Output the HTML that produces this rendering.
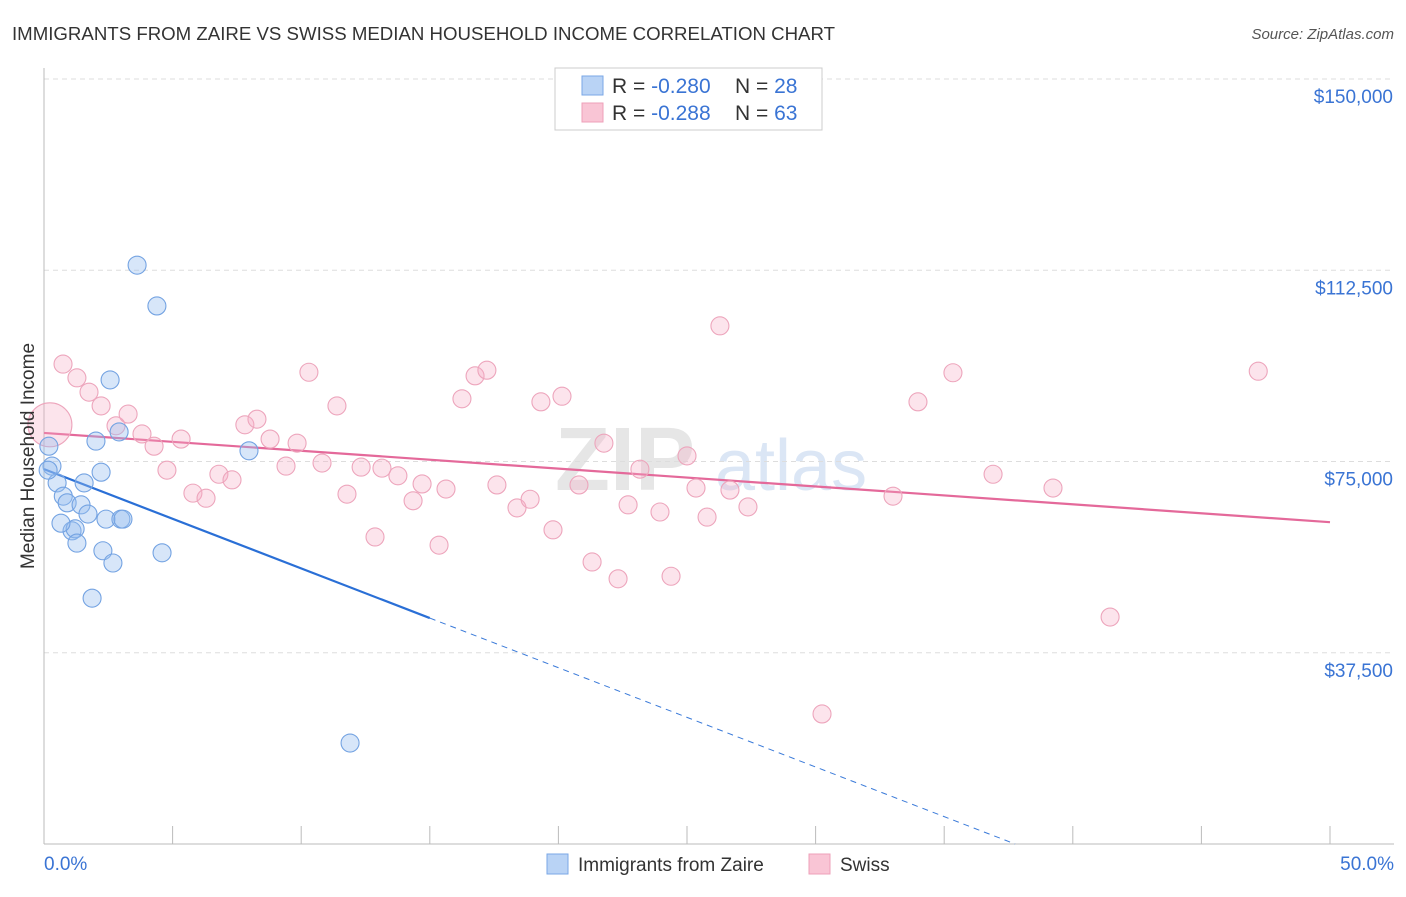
<!DOCTYPE html>
<html><head><meta charset="utf-8"><style>
body{margin:0;background:#fff;font-family:"Liberation Sans",sans-serif;}
svg text{font-family:"Liberation Sans",sans-serif;}
</style></head><body>
<svg id="chart" width="1406" height="892" viewBox="0 0 1406 892" xmlns="http://www.w3.org/2000/svg">
<text x="12" y="40" font-size="18" fill="#333" textLength="823" lengthAdjust="spacingAndGlyphs">IMMIGRANTS FROM ZAIRE VS SWISS MEDIAN HOUSEHOLD INCOME CORRELATION CHART</text>
<text x="1394" y="39" font-size="15" fill="#555" text-anchor="end" font-style="italic">Source: ZipAtlas.com</text>
<text x="555" y="490" font-size="90" fill="#e6e6e6" font-family="Liberation Serif" font-weight="bold">ZIP</text>
<text x="715" y="490" font-size="72" fill="#dbe6f5">atlas</text>
<g id="grid"></g>
<g id="axes"></g>
<g id="trends"></g>
<g id="points"></g>
<text transform="translate(34,456) rotate(-90)" font-size="19" fill="#333" text-anchor="middle">Median Household Income</text>
<g>
<rect x="555" y="68" width="267" height="62" fill="#fff" stroke="#ccc"/>
<rect x="582" y="76" width="21" height="19" fill="#b9d3f5" stroke="#7aa7e6"/>
<rect x="582" y="103" width="21" height="19" fill="#f9c5d5" stroke="#eea0b9"/>
<text x="612" y="93" font-size="21" fill="#333">R = <tspan fill="#3a74d4">-0.280</tspan></text>
<text x="735" y="93" font-size="21" fill="#333">N = <tspan fill="#3a74d4">28</tspan></text>
<text x="612" y="120" font-size="21" fill="#333">R =  <tspan fill="#3a74d4">-0.288</tspan></text>
<text x="735" y="120" font-size="21" fill="#333">N = <tspan fill="#3a74d4">63</tspan></text>
</g>
<g>
<rect x="547" y="854" width="21" height="20" fill="#b9d3f5" stroke="#7aa7e6"/>
<text x="578" y="871" font-size="19" fill="#333">Immigrants from Zaire</text>
<rect x="809" y="854" width="21" height="20" fill="#f9c5d5" stroke="#eea0b9"/>
<text x="840" y="871" font-size="19" fill="#333">Swiss</text>
</g>
</svg>
<script>
const blueX=[0.19,0.31,0.51,0.75,0.90,1.09,1.21,0.66,1.28,1.44,1.56,1.71,1.87,2.02,2.22,2.29,2.41,2.57,2.68,2.92,2.99,3.07,3.62,4.39,4.59,7.97,11.90,0.16];
const blueY=[78.0,74.1,70.8,68.2,66.9,61.4,61.8,62.9,59.0,66.5,70.8,64.7,48.2,79.0,72.9,57.5,63.7,91.0,55.1,80.8,63.7,63.7,113.5,105.5,57.1,77.1,19.8,73.3];
const pinkX=[0.23,0.74,1.28,1.75,2.22,2.80,3.27,3.81,4.28,4.78,5.33,5.79,6.30,6.80,7.31,7.81,8.28,8.79,9.41,9.84,10.30,10.81,11.39,11.78,12.33,12.87,13.14,13.76,14.35,14.70,15.36,15.63,16.25,16.76,17.22,17.61,18.39,18.90,19.32,19.79,20.14,20.80,21.31,21.77,22.32,22.71,23.17,23.95,24.38,25.00,25.35,25.78,26.28,26.67,27.37,30.25,33.01,33.98,35.34,36.90,39.23,41.45,47.21];
const pinkY=[82.2,94.1,91.4,88.6,85.9,82.0,84.3,80.4,78.0,73.3,79.4,68.8,67.8,72.5,71.4,82.2,83.3,79.4,74.1,78.6,92.5,74.7,85.9,68.6,73.9,60.2,73.7,72.2,67.3,70.6,58.6,69.6,87.3,91.8,92.9,70.4,65.9,67.6,86.7,61.6,87.8,70.4,55.3,78.6,52.0,66.5,73.5,65.1,52.5,76.1,69.8,64.1,101.6,69.4,66.1,25.5,68.2,86.7,92.4,72.5,69.8,44.5,92.7];
const yTicks=[150,112.5,75,37.5];
const yTickLabels=["$150,000","$112,500","$75,000","$37,500"];
const xTicks=[0,5,10,15,20,25,30,35,40,45,50];
const blueTrend=[73.5,44.3]; // at 0% and 15%
const pinkTrend=[80.6,63.1]; // at 0% and 50%
const NS="http://www.w3.org/2000/svg";
const xs=v=>44+v*25.72, ys=v=>844-v*5.1;
function mk(tag,parent,attrs){const e=document.createElementNS(NS,tag);for(const k in attrs)e.setAttribute(k,attrs[k]);document.getElementById(parent).appendChild(e);return e;}
yTicks.forEach((t,i)=>{
 const l=mk('line','grid',{x1:44,x2:1394,y1:ys(t),y2:ys(t),stroke:'#ddd','stroke-dasharray':'5,4'});
 
 
 const tx=mk('text','grid',{x:1393,y:ys(t)+24,'font-size':19,fill:'#3a74d4','text-anchor':'end'});
 tx.textContent=yTickLabels[i];
 
 
});
mk('line','axes',{x1:44,x2:44,y1:68,y2:844,stroke:'#bbb'});
mk('line','axes',{x1:44,x2:1394,y1:844,y2:844,stroke:'#bbb'});
xTicks.forEach(t=>{const l=mk('line','axes',{x1:xs(t),x2:xs(t),y1:826,y2:844,stroke:'#bbb'});
 
 });
let a=mk('text','axes',{x:44,y:870,'font-size':19,fill:'#3a74d4'});a.textContent='0.0%';


a=mk('text','axes',{x:1394,y:870,'font-size':19,fill:'#3a74d4','text-anchor':'end'});a.textContent='50.0%';


pinkX.forEach((x,i)=>{const c=mk('circle','points',{cx:xs(x),cy:ys(pinkY[i]),r:i===0?22:9,fill:'rgba(245,170,195,0.32)',stroke:'#eda5bc','stroke-width':1.1});
 
 });
blueX.forEach((x,i)=>{const c=mk('circle','points',{cx:xs(x),cy:ys(blueY[i]),r:9,fill:'rgba(150,190,240,0.38)',stroke:'#74a3e2','stroke-width':1.1});
 
 });
const bs=(blueTrend[1]-blueTrend[0])/15, x0=-blueTrend[0]/bs;
let t=mk('line','trends',{x1:xs(15),y1:ys(blueTrend[1]),x2:xs(x0),y2:ys(0),stroke:'#3a7ad9','stroke-width':1,'stroke-dasharray':'6,5'});


t=mk('line','trends',{x1:xs(0),y1:ys(blueTrend[0]),x2:xs(15),y2:ys(blueTrend[1]),stroke:'#2a6fd6','stroke-width':2.2});


t=mk('line','trends',{x1:xs(0),y1:ys(pinkTrend[0]),x2:xs(50),y2:ys(pinkTrend[1]),stroke:'#e4699a','stroke-width':2.2});


</script>
</body></html>
